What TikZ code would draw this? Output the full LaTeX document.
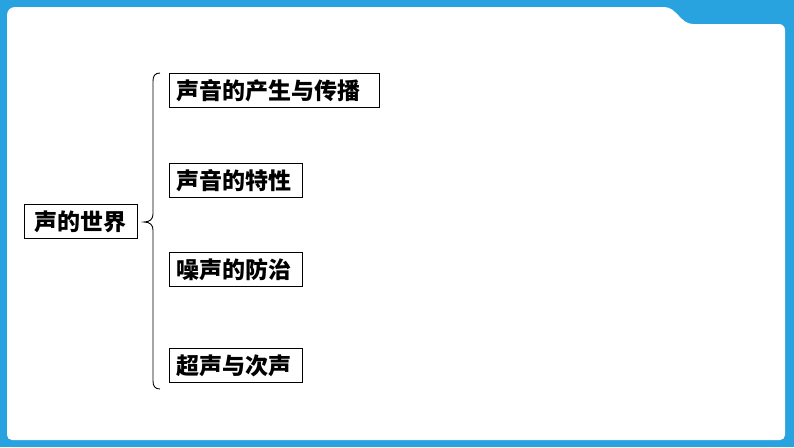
\documentclass[tikz,border=0pt]{standalone}
\usepackage{fontspec}
\setmainfont{Noto Sans CJK SC}
\newfontfamily\cjk{Noto Sans CJK SC}
\definecolor{frameblue}{RGB}{41,162,224}
\begin{document}
\begin{tikzpicture}[x=1pt,y=-1pt,
  box/.style={draw=black,line width=0.9pt,minimum height=34pt,inner xsep=7pt,inner ysep=0pt,anchor=north west,align=left,font=\cjk\bfseries\fontsize{23}{26}\selectfont},
  mainbox/.style={draw=black,line width=0.9pt,minimum height=34pt,minimum width=113pt,inner sep=0pt,anchor=north west,font=\cjk\bfseries\fontsize{23}{26}\selectfont}]
\useasboundingbox (0,0) rectangle (794,447);
\fill[frameblue] (0,0) rectangle (794,447);
\fill[white] (7,15) .. controls (7,10.6) and (10.6,7) .. (15,7)
  -- (664,7) .. controls (677,7) and (680,24) .. (693,24)
  -- (779,24) .. controls (782.3,24) and (785,26.7) .. (785,30)
  -- (785,435) .. controls (785,437.8) and (782.8,440) .. (780,440)
  -- (12,440) .. controls (9.2,440) and (7,437.8) .. (7,435) -- cycle;
\node[mainbox] (root) at (24,204) {声的世界};
\node[box,text width=196pt] (b1) at (169,73) {声音的产生与传播};
\node[box,text width=119pt] (b2) at (169,163) {声音的特性};
\node[box,text width=119pt] (b3) at (169,252) {噪声的防治};
\node[box,text width=119pt] (b4) at (169,348) {超声与次声};
\coordinate (btop) at (160,73);
\coordinate (bbot) at (160,389);
\coordinate (btip) at (144,222);
\draw[line width=0.9pt] (btop) .. controls (155,73) and (153,76) .. (153,81)
  -- (153,214) .. controls (153,219) and (150,222) .. (btip)
  .. controls (150,222) and (153,225) .. (153,230)
  -- (153,381) .. controls (153,386) and (155,389) .. (bbot);
\end{tikzpicture}
\end{document}
